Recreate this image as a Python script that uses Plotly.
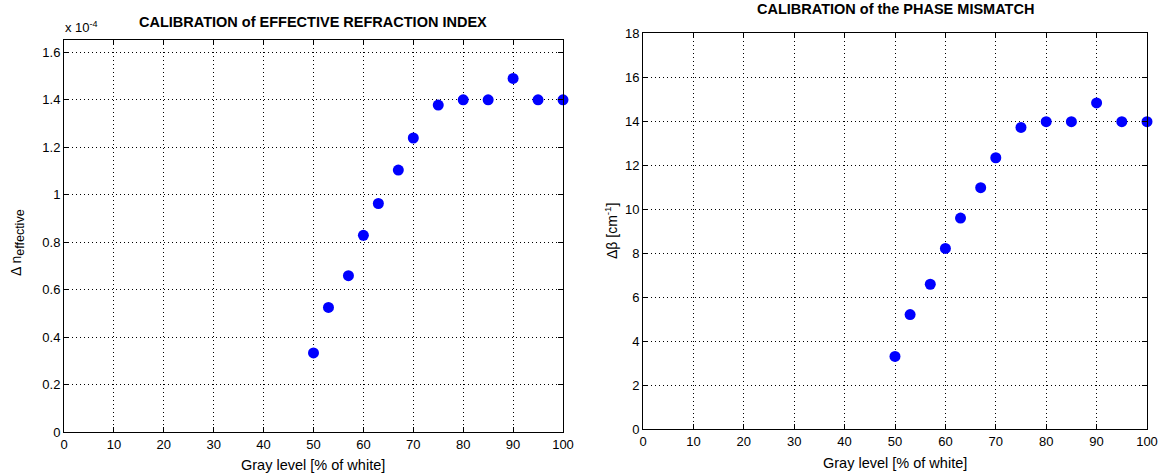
import plotly.graph_objects as go

gray_level = [50, 53, 57, 60, 63, 67, 70, 75, 80, 85, 90, 95, 100]
delta_n_eff_e4 = [0.333, 0.525, 0.659, 0.829, 0.963, 1.104, 1.239, 1.378, 1.40, 1.40, 1.490, 1.40, 1.40]
delta_beta = [3.30, 5.20, 6.58, 8.21, 9.59, 10.97, 12.33, 13.71, 13.97, 13.97, 14.82, 13.97, 13.97]

x_ticks = [0, 10, 20, 30, 40, 50, 60, 70, 80, 90, 100]
y1_ticks = [0, 0.2, 0.4, 0.6, 0.8, 1.0, 1.2, 1.4, 1.6]
y2_ticks = [0, 2, 4, 6, 8, 10, 12, 14, 16, 18]

FONT = "Liberation Sans, Arial, sans-serif"
W, H = 1162, 476

fig = go.Figure()
mk = dict(color="#0000FF", size=11, line=dict(width=0))
fig.add_trace(go.Scatter(x=gray_level, y=delta_n_eff_e4, mode="markers", marker=mk,
                         xaxis="x", yaxis="y", showlegend=False, cliponaxis=False))
fig.add_trace(go.Scatter(x=gray_level, y=delta_beta, mode="markers", marker=mk,
                         xaxis="x2", yaxis="y2", showlegend=False, cliponaxis=False))

def px_x(p):
    return p / W

def px_y(p):
    return 1 - p / H

axis_common = dict(
    showline=True, linecolor="black", linewidth=1, mirror="ticks",
    ticks="inside", ticklen=5, tickcolor="black", tickwidth=1,
    showgrid=True, gridcolor="black", gridwidth=1, griddash="1px,3px",
    zeroline=False, tickfont=dict(family=FONT, size=13, color="black"),
    fixedrange=True, automargin=False,
)

fig.update_layout(
    width=W, height=H, autosize=False,
    margin=dict(l=0, r=0, t=0, b=0, pad=0, autoexpand=False),
    paper_bgcolor="white", plot_bgcolor="white",
    font=dict(family=FONT, size=13, color="black"),
    xaxis=dict(domain=[px_x(64), px_x(563)], range=[0, 100], tickvals=x_ticks,
               anchor="y", **axis_common),
    yaxis=dict(domain=[px_y(432), px_y(40)], range=[0, 1.652], tickvals=y1_ticks,
               anchor="x", **axis_common),
    xaxis2=dict(domain=[px_x(643), px_x(1147)], range=[0, 100], tickvals=x_ticks,
                anchor="y2", **axis_common),
    yaxis2=dict(domain=[px_y(429), px_y(33)], range=[0, 18], tickvals=y2_ticks,
                anchor="x2", **axis_common),
)

ann = []
ann.append(dict(x=px_x(313), y=px_y(22), xref="paper", yref="paper", showarrow=False,
                text="<b>CALIBRATION of EFFECTIVE REFRACTION INDEX</b>",
                font=dict(family=FONT, size=14.5, color="black"), xanchor="center", yanchor="middle"))
ann.append(dict(x=px_x(895), y=px_y(9), xref="paper", yref="paper", showarrow=False,
                text="<b>CALIBRATION of the PHASE MISMATCH</b>",
                font=dict(family=FONT, size=14.5, color="black"), xanchor="center", yanchor="middle"))
ann.append(dict(x=px_x(63), y=px_y(27), xref="paper", yref="paper", showarrow=False,
                text="x 10<sup>-4</sup>", font=dict(family=FONT, size=13, color="black"),
                xanchor="left", yanchor="middle"))
ann.append(dict(x=px_x(313), y=px_y(465), xref="paper", yref="paper", showarrow=False,
                text="Gray level [% of white]", font=dict(family=FONT, size=14.5, color="black"),
                xanchor="center", yanchor="middle"))
ann.append(dict(x=px_x(895), y=px_y(463), xref="paper", yref="paper", showarrow=False,
                text="Gray level [% of white]", font=dict(family=FONT, size=14.5, color="black"),
                xanchor="center", yanchor="middle"))
ann.append(dict(x=px_x(18), y=px_y(243), xref="paper", yref="paper", showarrow=False,
                text='Δ n<sub><span style="font-size:12.5px">effective</span></sub>', textangle=-90,
                font=dict(family=FONT, size=14, color="black"),
                xanchor="center", yanchor="middle"))
ann.append(dict(x=px_x(611), y=px_y(231), xref="paper", yref="paper", showarrow=False,
                text="Δβ [cm<sup>-1</sup>]", textangle=-90,
                font=dict(family=FONT, size=14, color="black"),
                xanchor="center", yanchor="middle"))
fig.update_layout(annotations=ann)

fig.write_html(
    "out.html",
    config={"responsive": False},
    post_script="document.body.style.margin='0';document.body.style.padding='0';",
)
